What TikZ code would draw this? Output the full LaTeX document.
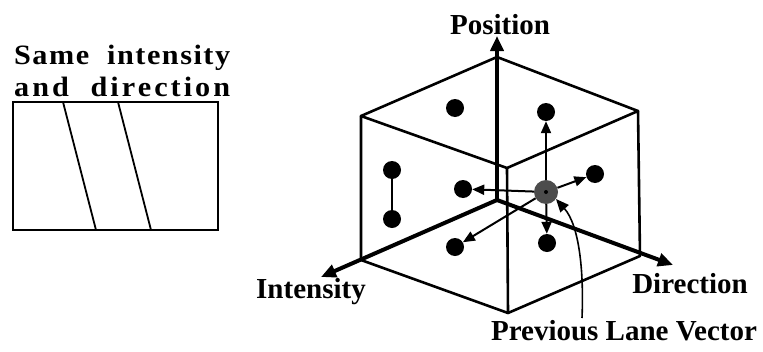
\documentclass[tikz,border=0pt]{standalone}
\usepackage{fontspec}
\setmainfont{Liberation Serif}
\newfontfamily\spA[LetterSpace=5]{Liberation Serif}
\newfontfamily\spB[LetterSpace=10]{Liberation Serif}
\usetikzlibrary{arrows.meta}
\begin{document}
\begin{tikzpicture}[x=1pt,y=-1pt,
  edge/.style={line width=2.6pt, line join=round, line cap=round},
  axis/.style={line width=4pt, -{Triangle[length=15pt,width=13pt]}},
  vec/.style={line width=2pt, -{Triangle[length=12pt,width=10pt]}},
  dotn/.style={circle, fill=black, inner sep=0pt, minimum size=18pt},
  lbl/.style={font=\bfseries\fontsize{29}{31}\selectfont, inner sep=0pt},
  ltxt/.style={font=\bfseries\fontsize{28}{30}\selectfont, inner sep=0pt, anchor=base west}
]
\useasboundingbox (0,0) rectangle (763,351);
\fill[white] (0,0) rectangle (763,351);

% left panel
\node[ltxt] (t1) at (14,64) {\scalebox{1.08}[1]{\makebox[200pt][s]{\spA\bfseries Same intensity}}};
\node[ltxt] (t2) at (14,96) {\scalebox{1.08}[1]{\makebox[200pt][s]{\spB\bfseries and direction}}};
\draw[line width=2pt] (13,102) rectangle (218,230);
\coordinate (l1a) at (63,102); \coordinate (l1b) at (96,230);
\coordinate (l2a) at (118,102); \coordinate (l2b) at (151,230);
\draw[line width=1.8pt] (l1a) -- (l1b);
\draw[line width=1.8pt] (l2a) -- (l2b);

% cube
\coordinate (O) at (497,200);
\coordinate (T) at (497,57);
\coordinate (TL) at (361,116);
\coordinate (TR) at (638,111);
\coordinate (TF) at (507,168);
\coordinate (BL) at (361,260);
\coordinate (BR) at (640,256);
\coordinate (BF) at (508,313);
\draw[edge] (TL) -- (T) -- (TR) -- (TF) -- cycle;
\draw[edge] (TF) -- (BF);
\draw[edge] (TL) -- (BL) -- (BF) -- (BR) -- (TR);

% axes
\coordinate (ptip) at (497,36);
\coordinate (itip) at (321,277);
\coordinate (dtip) at (673,265);
\draw[axis] (O) -- (ptip);
\draw[axis] (O) -- (itip);
\draw[axis] (O) -- (dtip);
\node[lbl, anchor=base] (pos) at (500,34) {Position};
\node[lbl, anchor=base] (int) at (311,298) {Intensity};
\node[lbl, anchor=base] (dir) at (690,293) {Direction};
\node[lbl, anchor=base] (plv) at (624,340) {Previous Lane Vector};

% dots
\node[dotn] (d1) at (455,108) {};
\node[dotn] (d2) at (546,112) {};
\node[dotn] (d3) at (392,170) {};
\node[dotn] (d4) at (392,219) {};
\node[dotn] (d5) at (463,189) {};
\node[dotn] (d6) at (455,247) {};
\node[dotn] (d7) at (595,174) {};
\node[dotn] (d8) at (547,243) {};
\draw[line width=2pt] (d3) -- (d4);

\node[circle, fill=black!70, inner sep=0pt, minimum size=24pt] (c) at (546,192) {};
\fill[black] (c.center) circle (2pt);
\draw[vec] (c) -- (d2);
\draw[vec] (c) -- (d5);
\draw[vec] (c) -- (d6);
\draw[vec] (c) -- (d7);
\draw[vec] (c) -- (d8);

\coordinate (ctail) at (582,318);
\draw[line width=1.6pt, -{Triangle[length=13pt,width=11pt]}] (ctail) .. controls (584,270) and (579,225) .. (c.-35);
\end{tikzpicture}
\end{document}
